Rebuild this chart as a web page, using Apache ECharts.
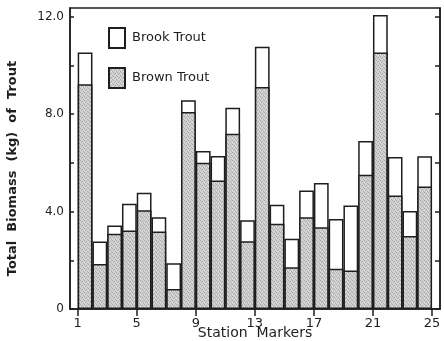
<!DOCTYPE html>
<html>
<head>
<meta charset="utf-8">
<script src="https://cdn.jsdelivr.net/npm/echarts@6/dist/echarts.min.js"></script>
<style>
  html, body { margin: 0; padding: 0; background: #ffffff; }
  #chart { width: 444px; height: 341px; }
</style>
</head>
<body>
<div id="chart"></div>
<script>
// Station markers along the stream (segments lie between consecutive markers)
const stationMarkers = [1, 5, 9, 13, 17, 21, 25];
const yTickLabels = [0, 4, 8, 12];
const yMinorTicks = [0, 2, 4, 6, 8, 10, 12];

// Biomass (kg) per segment, segment 1 = between markers 1 and 2
const brownTrout = [9.23, 1.85, 3.09, 3.22, 4.05, 3.18, 0.82, 8.09, 6.01, 5.28, 7.20, 2.78,
                    9.12, 3.50, 1.71, 3.77, 3.36, 1.65, 1.58, 5.51, 10.53, 4.66, 3.00, 5.03];
const brookTrout = [1.30, 0.92, 0.34, 1.10, 0.72, 0.59, 1.06, 0.48, 0.48, 1.00, 1.06, 0.86,
                    1.65, 0.78, 1.17, 1.10, 1.81, 2.05, 2.67, 1.39, 1.54, 1.58, 1.02, 1.24];

// fine grey stipple used for the brown trout fill
function stipple() {
  const c = document.createElement('canvas');
  c.width = 4; c.height = 4;
  const g = c.getContext('2d');
  g.fillStyle = '#cfcfcf';
  g.fillRect(0, 0, 4, 4);
  g.fillStyle = '#a9a9a9';
  [[0, 0], [2, 1], [1, 2], [3, 3]].forEach(p => g.fillRect(p[0], p[1], 1, 1));
  g.fillStyle = '#e2e2e2';
  [[2, 3], [0, 2]].forEach(p => g.fillRect(p[0], p[1], 1, 1));
  return c;
}

const segMid = i => i + 1.5;
const ink = '#1e1e1e';
const labelFont = 'DejaVu Sans';

const chart = echarts.init(document.getElementById('chart'), null, { renderer: 'canvas' });

const xMin = 0.479, xMax = 25.54;
const yMax = 12.36;

// brook trout sits on top of brown trout: white column = total, grey column = brown share
const totals = brownTrout.map((v, i) => +(v + brookTrout[i]).toFixed(2));

chart.setOption({
  animation: false,
  backgroundColor: '#ffffff',
  grid: {
    left: 70, right: 4, top: 8, bottom: 32,
    outerBoundsMode: 'none', containLabel: false,
    show: true, borderColor: ink, borderWidth: 1.5, backgroundColor: 'transparent'
  },
  legend: {
    orient: 'vertical',
    left: 103, top: 22,
    itemWidth: 16, itemHeight: 20, itemGap: 18,
    icon: 'rect',
    data: ['Brook Trout', 'Brown Trout'],
    textStyle: { fontFamily: labelFont, fontSize: 13, color: ink, padding: [10, 0, 0, 2] }
  },
  xAxis: {
    type: 'value', min: xMin, max: xMax,
    splitLine: { show: false },
    axisLine: { show: true, lineStyle: { color: ink, width: 1.5 } },
    axisTick: { show: true, customValues: stationMarkers, length: 7, inside: false, lineStyle: { color: ink, width: 1.5 } },
    axisLabel: { customValues: stationMarkers, fontFamily: labelFont, fontSize: 13, color: ink, margin: 8 },
    name: 'Station  Markers', nameLocation: 'middle', nameGap: 17, nameMoveOverlap: false,
    nameTextStyle: { fontFamily: labelFont, fontSize: 14, color: ink }
  },
  yAxis: [{
    type: 'value', min: 0, max: yMax,
    splitLine: { show: false },
    axisLine: { show: true, lineStyle: { color: ink, width: 1.5 } },
    axisTick: { show: true, customValues: yMinorTicks, inside: true, length: 4, lineStyle: { color: ink, width: 1.5 } },
    axisLabel: {
      customValues: yTickLabels, fontFamily: labelFont, fontSize: 12, color: ink, margin: 6,
      formatter: v => (v === 0 ? '0' : v.toFixed(1))
    },
    name: 'Total  Biomass  (kg)  of  Trout', nameLocation: 'middle', nameGap: 51, nameRotate: 90,
    nameTextStyle: { fontFamily: labelFont, fontSize: 13, fontWeight: 'bold', color: ink, padding: [0, 20, 0, 0] }
  }, {
    type: 'value', min: 0, max: yMax, position: 'right',
    splitLine: { show: false },
    axisLine: { show: true, lineStyle: { color: ink, width: 1.5 } },
    axisTick: { show: true, customValues: yMinorTicks, inside: true, length: 5, lineStyle: { color: ink, width: 1.5 } },
    axisLabel: { show: false }
  }],
  series: [{
    name: 'Brook Trout', type: 'bar', barWidth: 14.78, barGap: '-100%',
    itemStyle: { color: '#ffffff', borderColor: ink, borderWidth: 1.5 },
    data: totals.map((v, i) => [segMid(i), v])
  }, {
    name: 'Brown Trout', type: 'bar', barWidth: 14.78, barGap: '-100%',
    itemStyle: { color: { image: stipple(), repeat: 'repeat' }, borderColor: ink, borderWidth: 1.5 },
    data: brownTrout.map((v, i) => [segMid(i), v])
  }]
});
</script>
</body>
</html>
